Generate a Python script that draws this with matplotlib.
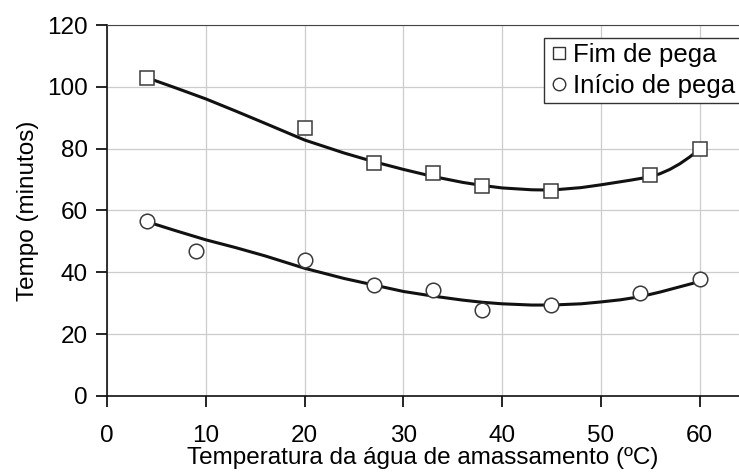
import matplotlib.pyplot as plt

plt.rcParams['font.family'] = ['Liberation Sans', 'DejaVu Sans']

# pontos medidos (leitura do gráfico)
temp_fim = [4, 20, 27, 33, 38, 45, 55, 60]
tempo_fim = [103, 86.7, 75.4, 72.1, 68.0, 66.4, 71.4, 79.9]
temp_inicio = [4, 9, 20, 27, 33, 38, 45, 54, 60]
tempo_inicio = [56.7, 46.8, 43.9, 35.9, 34.3, 27.9, 29.3, 33.3, 37.8]

# linhas de tendência (lidas ao longo da curva desenhada)
curva_fim_x = [4, 7, 10, 13, 16, 20, 24, 27, 30, 33, 36, 38, 40, 43, 45, 48, 50, 53, 55, 56, 57, 58, 59, 60]
curva_fim_y = [103, 99.6, 96.1, 92.2, 88.2, 82.8, 78.6, 75.8, 73.3, 71.0, 69.1, 68.1, 67.3, 66.7, 66.6, 67.4, 68.3, 69.8, 70.9, 71.9, 73.3, 75.1, 77.3, 79.8]
curva_ini_x = [4, 7, 10, 13, 16, 20, 24, 27, 30, 33, 36, 38, 40, 43, 45, 48, 50, 52, 54, 56, 58, 60]
curva_ini_y = [56.4, 53.4, 50.5, 48.0, 45.3, 41.3, 38.0, 35.9, 33.8, 32.3, 31.0, 30.3, 29.8, 29.4, 29.4, 29.8, 30.4, 31.1, 32.1, 33.6, 35.3, 37.0]

x_ticks = [0, 10, 20, 30, 40, 50, 60]
y_ticks = [0, 20, 40, 60, 80, 100, 120]

fig = plt.figure(figsize=(7.39, 4.73), dpi=100)
ax = fig.add_axes([0.145, 0.163, 0.855, 0.784])

ax.plot(curva_fim_x, curva_fim_y, color='#111111', lw=2.2, solid_joinstyle='round', zorder=2)
ax.plot(curva_ini_x, curva_ini_y, color='#111111', lw=2.2, solid_joinstyle='round', zorder=2)

ax.plot(temp_fim, tempo_fim, ls='none', marker='s', ms=10.5, mfc='white',
        mec='#3a3a3a', mew=1.1, zorder=3)
ax.plot(temp_inicio, tempo_inicio, ls='none', marker='o', ms=10.5, mfc='white',
        mec='#3a3a3a', mew=1.1, zorder=3)

h1, = ax.plot([], [], ls='none', marker='s', ms=9, mfc='white', mec='#333333', mew=1.0)
h2, = ax.plot([], [], ls='none', marker='o', ms=9, mfc='white', mec='#333333', mew=1.0)
leg = ax.legend([h1, h2], ['Fim de pega', 'Início de pega'], loc='upper left',
                bbox_to_anchor=(0.692, 0.965), fontsize=18.5, frameon=True, fancybox=False,
                handlelength=0.7, handletextpad=0.2, borderpad=0.2, labelspacing=0.25,
                borderaxespad=0.0, framealpha=1)
leg.get_frame().set_edgecolor('#333333')
leg.get_frame().set_linewidth(1.0)

ax.set_xlim(0, 64)
ax.set_ylim(0, 120)
ax.set_xticks(x_ticks)
ax.set_yticks(y_ticks)
ax.grid(True, color='#cccccc', lw=0.9)
ax.set_axisbelow(True)

ax.spines['right'].set_visible(False)
ax.spines['top'].set_color('#444444')
for s in ['left', 'bottom']:
    ax.spines[s].set_color('#111111')
    ax.spines[s].set_linewidth(1.2)

ax.tick_params(axis='x', direction='out', length=8, width=1.2, pad=13, labelsize=17.5)
ax.tick_params(axis='y', direction='out', length=8, width=1.2, pad=6, labelsize=17.5)

ax.set_xlabel('Temperatura da água de amassamento (ºC)', fontsize=17.5, labelpad=0)
ax.set_ylabel('Tempo (minutos)', fontsize=17.5, labelpad=6)

fig.savefig('out.png', dpi=100)
